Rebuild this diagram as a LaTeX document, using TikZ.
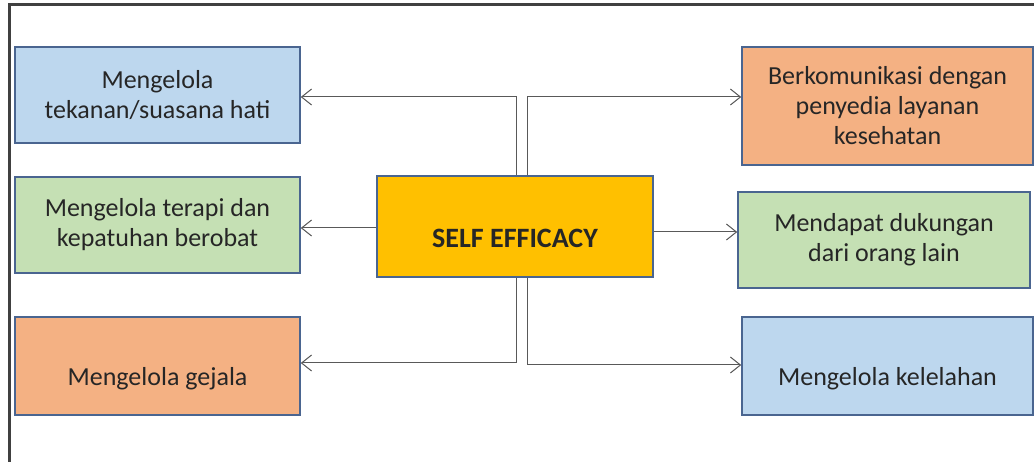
\documentclass[tikz,border=0pt]{standalone}
\usepackage{fontspec}
\setmainfont{Carlito}
\usetikzlibrary{arrows.meta}
\definecolor{bluefill}{HTML}{BDD7EE}
\definecolor{greenfill}{HTML}{C5E0B4}
\definecolor{orangefill}{HTML}{F4B183}
\definecolor{yellowfill}{HTML}{FFC000}
\definecolor{boxline}{HTML}{4A6590}
\definecolor{txt}{HTML}{262626}
\definecolor{conn}{HTML}{595959}
\tikzset{
  box/.style={draw=boxline, line width=1.6pt, rectangle, align=center, text=txt,
    font=\fontsize{26}{30}\selectfont, inner sep=0pt},
  lbl/.style={text=txt, font=\fontsize{26}{30}\selectfont},
  link/.style={draw=conn, line width=1pt, -{Straight Barb[length=10pt,width=16pt,line width=1pt]}},
}
\begin{document}
\begin{tikzpicture}[x=1pt,y=-1pt]
\useasboundingbox (0,0) rectangle (1034,462);
\draw[line width=3pt, draw=black!75] (9,462) -- (9,5) -- (1034,5);
% boxes
\node[box, fill=bluefill, minimum width=285pt, minimum height=96pt] (tl) at (157.5,95) {Mengelola\\tekanan/suasana hati};
\node[box, fill=greenfill, minimum width=285pt, minimum height=96pt] (ml) at (157.5,225) {Mengelola terapi dan\\kepatuhan berobat};
\node[box, fill=orangefill, minimum width=285pt, minimum height=98pt] (bl) at (157.5,366) {};
\node[lbl] (blt) at (157.5,379) {Mengelola gejala};
\node[box, fill=orangefill, minimum width=291pt, minimum height=118pt] (tr) at (887.5,106) {Berkomunikasi dengan\\penyedia layanan\\kesehatan};
\node[box, fill=greenfill, minimum width=292pt, minimum height=96pt] (mr) at (884,240) {Mendapat dukungan\\dari orang lain};
\node[box, fill=bluefill, minimum width=291pt, minimum height=98pt] (br) at (887.5,366) {};
\node[lbl] (brt) at (887.5,379) {Mengelola kelelahan};
\node[box, fill=yellowfill, minimum width=276pt, minimum height=101pt] (c) at (515,226.5) {};
\node[text=txt, font=\bfseries\fontsize{28}{32}\selectfont] (ct) at (515,238) {SELF EFFICACY};
% connectors
\coordinate (a1) at (516,97);
\coordinate (a2) at (527,97);
\coordinate (a3) at (516,363);
\coordinate (a4) at (527,365);
\draw[link] (c.north -| a1) -- (a1) -- (tl.east |- a1);
\draw[link] (c.north -| a2) -- (a2) -- (tr.west |- a2);
\draw[link] (c.west |- 0,228) -- (ml.east |- 0,228);
\draw[link] (c.east |- 0,232) -- (mr.west |- 0,232);
\draw[link] (c.south -| a3) -- (a3) -- (bl.east |- a3);
\draw[link] (c.south -| a4) -- (a4) -- (br.west |- a4);
\end{tikzpicture}
\end{document}
